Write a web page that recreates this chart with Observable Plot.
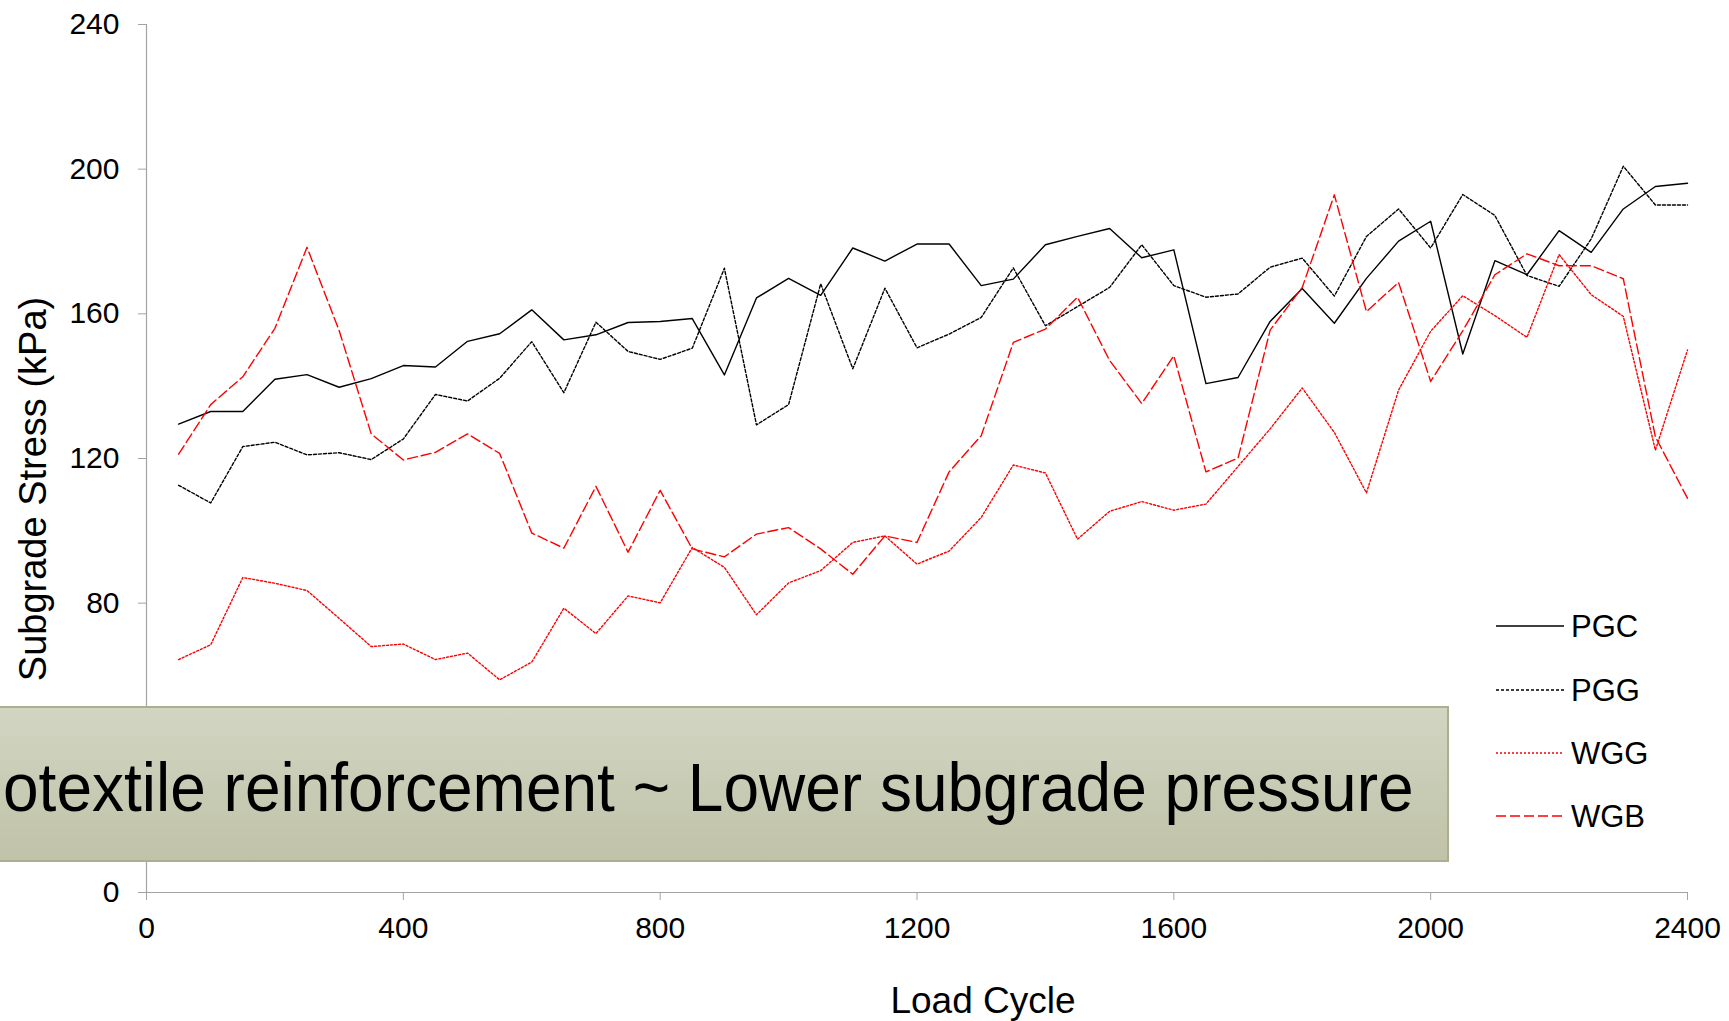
<!DOCTYPE html>
<html>
<head>
<meta charset="utf-8">
<script src="https://cdn.jsdelivr.net/npm/d3@7"></script>
<script src="https://cdn.jsdelivr.net/npm/@observablehq/plot@0.6"></script>
<style>
  html, body { margin: 0; padding: 0; background: #fff; }
  #wrap { position: relative; width: 1729px; height: 1021px; overflow: hidden; font-family: "Liberation Sans", Arial, sans-serif; }
  #chart { position: absolute; left: 0; top: 0; }
  .ylab { position: absolute; left: 33px; top: 489px; transform: translate(-50%, -50%) rotate(-90deg); font-size: 38px; white-space: nowrap; color: #000; }
  .xlab { position: absolute; left: 983px; top: 1001px; transform: translate(-50%, -50%); font-size: 37px; white-space: nowrap; color: #000; }
  #legend { position: absolute; left: 0; top: 0; }
  #banner { position: absolute; left: -2px; top: 706px; width: 1451px; height: 156px;
    background: linear-gradient(#d2d5c2, #c0c3a8); border: 2px solid #aab08e; box-sizing: border-box;
    display: flex; align-items: center; justify-content: flex-start; padding-left: 3px; padding-top: 8px; overflow: hidden; }
  #banner span { font-size: 64px; white-space: nowrap; color: #000; display: inline-block; transform: scaleY(1.06); }
</style>
</head>
<body>
<div id="wrap">
  <div id="chart"></div>
  <div class="ylab">Subgrade Stress (kPa)</div>
  <div class="xlab">Load Cycle</div>
  <div id="banner"><span>otextile reinforcement ~ Lower subgrade pressure</span></div>
  <svg id="legend" width="1729" height="1021"></svg>
</div>
<script>
const cycles = [50,100,150,200,250,300,350,400,450,500,550,600,650,700,750,800,850,900,950,1000,1050,1100,1150,1200,1250,1300,1350,1400,1450,1500,1550,1600,1650,1700,1750,1800,1850,1900,1950,2000,2050,2100,2150,2200,2250,2300,2350,2400];

const PGC = [129.5,133.0,133.0,141.9,143.2,139.7,142.1,145.7,145.3,152.4,154.5,161.1,152.8,154.2,157.6,157.9,158.7,143.1,164.4,169.8,165.1,178.2,174.6,179.3,179.3,167.8,169.6,179.1,181.4,183.6,175.5,177.7,140.7,142.4,157.9,167.0,157.4,169.8,180.1,185.6,148.9,174.7,170.8,183.0,177.0,189.0,195.2,196.1];

const PGG = [112.6,107.7,123.3,124.5,121.0,121.6,119.7,125.4,137.7,135.9,142.2,152.3,138.2,157.7,149.6,147.4,150.5,172.6,129.3,134.9,168.3,144.8,167.1,150.6,154.4,159.0,172.7,156.7,162.0,167.3,179.1,167.8,164.6,165.5,172.9,175.4,164.9,181.4,189.0,178.2,193.0,187.2,170.6,167.6,180.7,200.8,190.1,190.1];

const WGG = [64.4,68.5,87.1,85.5,83.5,75.8,68.0,68.7,64.4,66.2,58.8,63.7,78.6,71.6,82.0,80.1,95.4,89.9,76.8,85.6,89.0,96.8,98.6,90.8,94.4,103.7,118.2,116.0,97.7,105.4,108.1,105.7,107.4,117.8,128.2,139.5,127.2,110.5,138.9,155.2,165.0,159.5,153.5,176.4,165.3,159.3,122.3,150.0];

const WGB = [121.2,134.9,142.6,156.0,178.4,155.4,126.8,119.6,121.7,126.8,121.4,99.4,95.2,112.3,94.1,111.2,95.0,92.8,99.1,100.9,95.0,88.0,98.6,96.8,116.3,126.3,152.1,155.8,164.6,147.1,135.2,148.4,116.3,120.1,155.5,167.3,192.9,160.6,168.7,141.3,155.3,170.8,176.6,173.3,173.3,169.7,126.0,109.0];

const seriesNames = ["PGC", "PGG", "WGG", "WGB"];
const seriesValues = [PGC, PGG, WGG, WGB];
const seriesColors = ["#000000", "#000000", "#ff0000", "#ff0000"];
const seriesDash = ["none", "3,2", "2,2", "10,4"];
const xTicks = [0, 400, 800, 1200, 1600, 2000, 2400];
const yTicks = [0, 40, 80, 120, 160, 200, 240];
const yTickLabels = [0, 80, 120, 160, 200, 240]; // the 40 label sits behind the banner

const rows = seriesNames.map((name, k) => cycles.map((c, i) => ({series: name, cycle: c, value: seriesValues[k][i]})));

const axisGray = "#a3a3a3";

const chart = Plot.plot({
  width: 1729,
  height: 1021,
  marginLeft: 146,
  marginRight: 42,
  marginTop: 24,
  marginBottom: 129,
  style: {fontFamily: "'Liberation Sans', Arial, sans-serif", fontSize: "30px", color: "#000", background: "transparent"},
  x: {domain: [0, 2400], label: null},
  y: {domain: [0, 240], label: null},
  marks: [
    Plot.axisY({ticks: yTicks, tickSize: 8, stroke: axisGray, text: null, label: null}),
    Plot.axisY({ticks: yTickLabels, tickSize: 0, tickPadding: 27, label: null}),
    Plot.axisX({ticks: xTicks, tickSize: 8, tickPadding: 16, stroke: axisGray, tickFormat: d => String(d), label: null}),
    Plot.ruleX([0], {stroke: axisGray, strokeWidth: 1.2}),
    Plot.ruleY([0], {stroke: axisGray, strokeWidth: 1.2}),
    ...rows.map((data, k) => Plot.line(data, {
      x: "cycle", y: "value",
      stroke: seriesColors[k],
      strokeWidth: 1.4,
      strokeDasharray: seriesDash[k] === "none" ? null : seriesDash[k]
    }))
  ]
});
document.getElementById("chart").appendChild(chart);

// Legend
const leg = d3.select("#legend");
const legY = [626, 690, 753, 816];
seriesNames.forEach((name, k) => {
  leg.append("line")
    .attr("x1", 1496).attr("x2", 1564)
    .attr("y1", legY[k]).attr("y2", legY[k])
    .attr("stroke", seriesColors[k])
    .attr("stroke-width", 1.4)
    .attr("stroke-dasharray", seriesDash[k] === "none" ? null : seriesDash[k]);
  leg.append("text")
    .attr("x", 1571).attr("y", legY[k])
    .attr("dy", "0.35em")
    .attr("font-family", "'Liberation Sans', Arial, sans-serif")
    .attr("font-size", 31)
    .attr("fill", "#000")
    .text(name);
});
</script>
</body>
</html>
